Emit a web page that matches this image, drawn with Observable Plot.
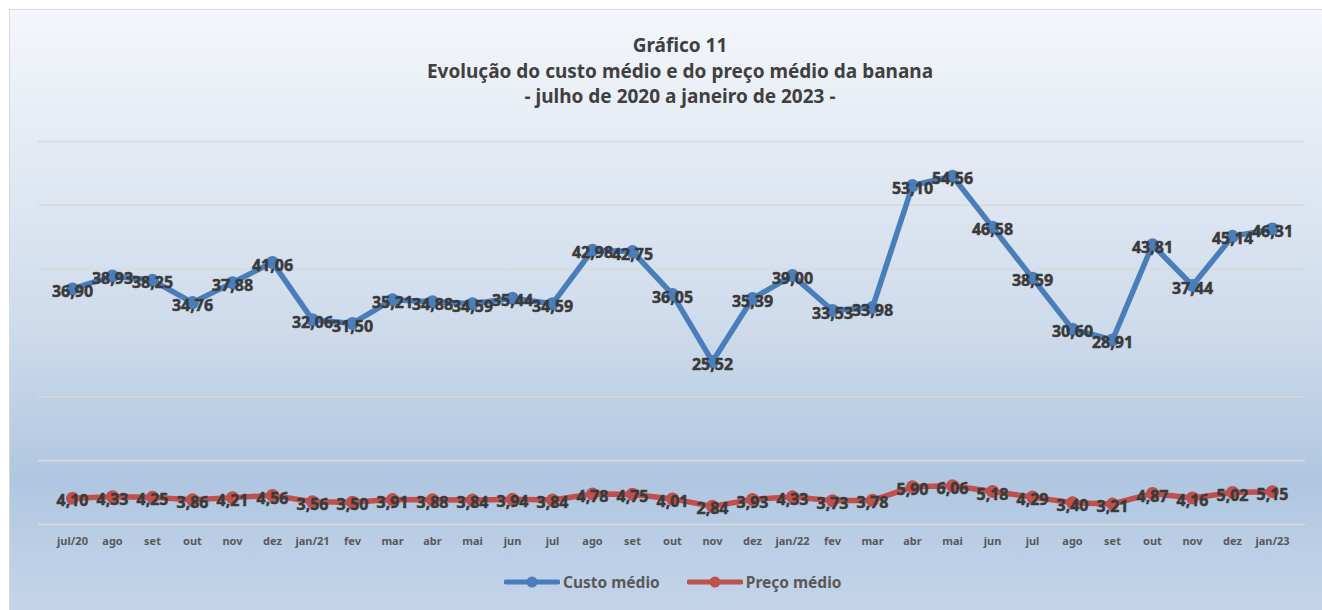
<!DOCTYPE html>
<html>
<head>
<meta charset="utf-8">
<script src="https://cdn.jsdelivr.net/npm/d3@7"></script>
<script src="https://cdn.jsdelivr.net/npm/@observablehq/plot@0.6"></script>
<style>
  html, body { margin: 0; padding: 0; background: #ffffff; }
  #wrap { position: relative; width: 1322px; height: 610px; overflow: hidden; font-family: "Noto Sans", "Open Sans", sans-serif; }
  #bg { position: absolute; left: 9px; top: 9px; width: 1330px; height: 620px;
        border-left: 1.5px solid #d9d9d9; border-top: 1.5px solid #d9d9d9;
        background: linear-gradient(to bottom, #f4f7fb 0%, #e2e9f3 25%, #cfdcec 50%, #b0c6e0 76%, #bccfe6 88%, #c6d6ea 100%); }
  #title { position: absolute; left: 0; width: 1360px; top: 33px; text-align: center;
           font-weight: bold; font-size: 19px; line-height: 25.5px; color: #404040; }
  #chart { position: absolute; left: 0; top: 0; }
  #legend { position: absolute; left: 504px; top: 571px; display: flex; align-items: center;
            font-weight: bold; font-size: 15.5px; color: #595959; }
  .item { display: flex; align-items: center; }
  .item svg { margin-right: 3px; }
</style>
</head>
<body>
<div id="wrap">
  <div id="bg"></div>
  <div id="title">Gráfico 11<br>Evolução do custo médio e do preço médio da banana<br>- julho de 2020 a janeiro de 2023 -</div>
  <div id="chart"></div>
  <div id="legend"></div>
</div>
<script>
const months = ["jul/20","ago","set","out","nov","dez","jan/21","fev","mar","abr","mai","jun","jul","ago","set","out","nov","dez","jan/22","fev","mar","abr","mai","jun","jul","ago","set","out","nov","dez","jan/23"];
const custoMedio = [36.90,38.93,38.25,34.76,37.88,41.06,32.06,31.50,35.21,34.88,34.59,35.44,34.59,42.98,42.75,36.05,25.52,35.39,39.00,33.53,33.98,53.10,54.56,46.58,38.59,30.60,28.91,43.81,37.44,45.14,46.31];
const precoMedio = [4.10,4.33,4.25,3.86,4.21,4.56,3.56,3.50,3.91,3.88,3.84,3.94,3.84,4.78,4.75,4.01,2.84,3.93,4.33,3.73,3.78,5.90,6.06,5.18,4.29,3.40,3.21,4.87,4.16,5.02,5.15];
const seriesNames = ["Custo médio", "Preço médio"];
const seriesColors = ["#4a7ebb", "#c0504d"];
const gridValues = [0, 10, 20, 30, 40, 50, 60];

const custo = custoMedio.map((v, i) => ({i, v}));
const preco = precoMedio.map((v, i) => ({i, v}));
const fmt = v => v.toFixed(2).replace(".", ",");

const lblStyle = {fontSize: 16, fontWeight: "bold", fill: "#3a3a3a", stroke: "#3a3a3a", strokeWidth: 0.5, dy: 3};

const chart = Plot.plot({
  width: 1322,
  height: 560,
  marginTop: 141,
  marginBottom: 36,
  marginLeft: 38,
  marginRight: 17,
  style: {background: "transparent", fontFamily: "Noto Sans, Open Sans, sans-serif", overflow: "visible"},
  x: {type: "point", domain: d3.range(months.length), padding: 0.5},
  y: {domain: [0, 60], axis: null},
  marks: [
    Plot.ruleY(gridValues, {stroke: "#d9d9d9", strokeWidth: 1.5}),
    Plot.axisX({tickSize: 0, tickPadding: 13, tickFormat: i => months[i], fontSize: 11, fontWeight: "bold", fill: "#595959", label: null}),
    Plot.line(custo, {x: "i", y: "v", stroke: seriesColors[0], strokeWidth: 5.5, strokeLinejoin: "round"}),
    Plot.dot(custo, {x: "i", y: "v", r: 6.5, fill: seriesColors[0]}),
    Plot.line(preco, {x: "i", y: "v", stroke: seriesColors[1], strokeWidth: 5.5, strokeLinejoin: "round"}),
    Plot.dot(preco, {x: "i", y: "v", r: 6.5, fill: seriesColors[1]}),
    Plot.text(custo, {x: "i", y: "v", text: d => fmt(d.v), ...lblStyle}),
    Plot.text(preco, {x: "i", y: "v", text: d => fmt(d.v), ...lblStyle})
  ]
});
document.getElementById("chart").appendChild(chart);

const legend = document.getElementById("legend");
seriesNames.forEach((name, k) => {
  const item = document.createElement("div");
  item.className = "item";
  if (k > 0) item.style.marginLeft = "27px";
  const ns = "http://www.w3.org/2000/svg";
  const svg = document.createElementNS(ns, "svg");
  svg.setAttribute("width", 56); svg.setAttribute("height", 14);
  const ln = document.createElementNS(ns, "line");
  ln.setAttribute("x1", 2); ln.setAttribute("x2", 54); ln.setAttribute("y1", 7); ln.setAttribute("y2", 7);
  ln.setAttribute("stroke", seriesColors[k]); ln.setAttribute("stroke-width", 5); ln.setAttribute("stroke-linecap", "round");
  const c = document.createElementNS(ns, "circle");
  c.setAttribute("cx", 28); c.setAttribute("cy", 7); c.setAttribute("r", 5.5); c.setAttribute("fill", seriesColors[k]);
  svg.appendChild(ln); svg.appendChild(c);
  const t = document.createElement("span");
  t.textContent = name;
  item.appendChild(svg); item.appendChild(t);
  legend.appendChild(item);
});
</script>
</body>
</html>
